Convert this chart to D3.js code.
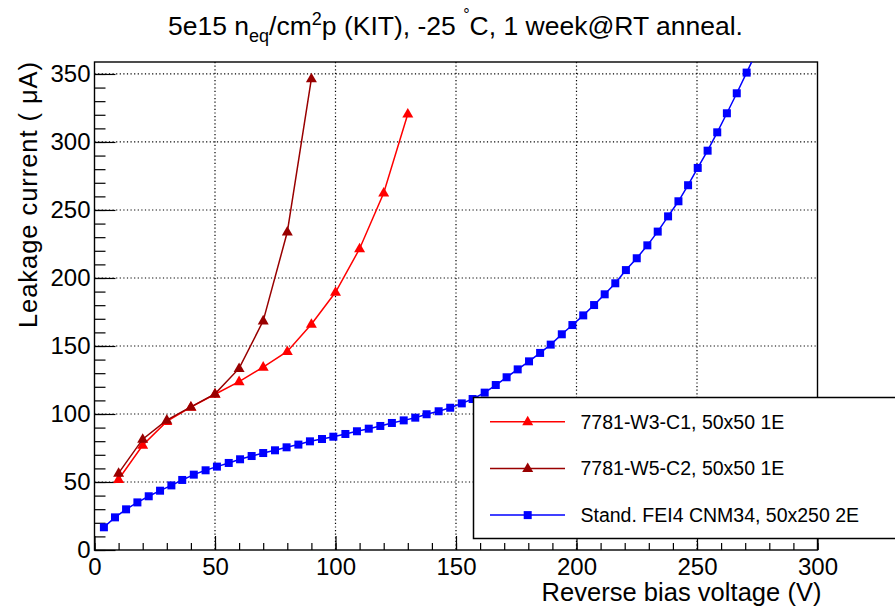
<!DOCTYPE html>
<html>
<head>
<meta charset="utf-8">
<script src="https://cdn.jsdelivr.net/npm/d3@7"></script>
<style>
  body { margin: 0; background: #fff; }
  svg { font-family: 'Liberation Sans', Arial, sans-serif; }
  .grid line { stroke: #000; stroke-width: 1.2; stroke-dasharray: 1.2 2.4; }
  .axis path { display: none; }
  .axis line { stroke: #000; stroke-width: 1.2; }
  .axis text { font-size: 24px; fill: #000; }
</style>
</head>
<body>
<svg id="chart" width="895" height="606"></svg>
<script>
// measured points (V, uA)
const voltW3 = [10, 20, 30, 40, 50, 60, 70, 80, 90, 100, 110, 120, 130];
const currW3 = [52, 77, 94.5, 105, 114.5, 123.8, 134.5, 146, 166, 189.5, 221.5, 262.5, 320.6];

const voltW5 = [10, 20, 30, 40, 50, 60, 70, 80, 90];
const currW5 = [56.5, 81.5, 95.5, 105.2, 114.8, 133.5, 168.5, 233.8, 346.5];

const voltCNM = [3.9, 8.5, 13.1, 17.8, 22.5, 27.2, 31.9, 36.4, 41.2, 46.1, 50.8, 55.7, 60.4, 65.2, 70,
  74.9, 79.7, 84.6, 89.4, 94.4, 99.1, 104.1, 108.9, 113.8, 118.6, 123.4, 128.3, 133.1, 137.8, 142.8,
  147.6, 152.4, 156.9, 161.9, 166.5, 171, 175.6, 180.3, 184.9, 189.3, 193.9, 198.3, 202.8, 207.3, 211.7,
  216.1, 220.5, 225, 229.4, 233.7, 238, 242.3, 246.3, 250.3, 254.4, 258.4, 262.4, 266.5, 270.6, 274.6];
const currCNM = [16.7, 24, 29.9, 35, 39.5, 43.6, 47.5, 51.5, 55.4, 58.6, 61.3, 64, 66.7, 69.1, 71.3,
  73.3, 75.5, 77.5, 79.9, 81.6, 83.3, 85.3, 87.3, 89.2, 91.2, 93.4, 95.3, 97.3, 99.8, 102,
  104.6, 107.8, 111, 115.7, 121.3, 127, 132.8, 138.7, 144.9, 151, 158.6, 165.4, 172.5, 180.1, 188,
  196.1, 205.8, 214.5, 224, 234.1, 245.3, 256.4, 268.2, 280.9, 293.6, 307.1, 321.1, 335.8, 351, 366];

const legendLabels = ['7781-W3-C1, 50x50 1E', '7781-W5-C2, 50x50 1E', 'Stand. FEI4 CNM34, 50x250 2E'];

const xMajor = [0, 50, 100, 150, 200, 250, 300];
const yMajor = [0, 50, 100, 150, 200, 250, 300, 350];

const frameL = 94.5, frameR = 817.5, frameT = 62, frameB = 550;

const svg = d3.select('#chart');
svg.append('rect').attr('width', 895).attr('height', 606).attr('fill', '#fff');

const x = d3.scaleLinear().domain([0, 300]).range([frameL, frameR]);
const y = d3.scaleLinear().domain([0, 358.8]).range([frameB, frameT]);

// grid
const grid = svg.append('g').attr('class', 'grid');
grid.selectAll('.gx').data(xMajor.slice(1, -1)).enter().append('line')
  .attr('x1', d => x(d)).attr('x2', d => x(d)).attr('y1', frameT).attr('y2', frameB);
grid.selectAll('.gy').data(yMajor.slice(1)).enter().append('line')
  .attr('x1', frameL).attr('x2', frameR).attr('y1', d => y(d)).attr('y2', d => y(d));

// axes, ticks inside the frame
svg.append('g').attr('class', 'axis').attr('transform', `translate(0,${frameB})`)
  .call(d3.axisBottom(x).tickValues(d3.range(0, 301, 10)).tickSize(-7).tickFormat(''));
svg.append('g').attr('class', 'axis').attr('transform', `translate(0,${frameB})`)
  .call(d3.axisBottom(x).tickValues(xMajor).tickSize(-14).tickPadding(8).tickFormat(d3.format('d')));
svg.append('g').attr('class', 'axis').attr('transform', `translate(${frameL},0)`)
  .call(d3.axisLeft(y).tickValues(d3.range(0, 351, 10)).tickSize(-11).tickFormat(''));
svg.append('g').attr('class', 'axis').attr('transform', `translate(${frameL},0)`)
  .call(d3.axisLeft(y).tickValues(yMajor).tickSize(-21).tickPadding(4).tickFormat(d3.format('d')));

// frame
svg.append('rect').attr('x', frameL).attr('y', frameT).attr('width', frameR - frameL).attr('height', frameB - frameT)
  .attr('fill', 'none').attr('stroke', '#000').attr('stroke-width', 1.4);

svg.append('clipPath').attr('id', 'frameClip').append('rect')
  .attr('x', frameL).attr('y', frameT).attr('width', frameR - frameL).attr('height', frameB - frameT);

const series = [
  { xs: voltW3, ys: currW3, color: '#ff0000', marker: 'tri' },
  { xs: voltW5, ys: currW5, color: '#990000', marker: 'tri' },
  { xs: voltCNM, ys: currCNM, color: '#0000ff', marker: 'sq' }
];

const line = d3.line().x(d => x(d[0])).y(d => y(d[1]));
const triPath = 'M0,-6L5.5,3.6L-5.5,3.6Z';

function drawMarker(g, cx, cy, s) {
  if (s.marker === 'tri') {
    g.append('path').attr('d', triPath).attr('transform', `translate(${cx},${cy})`).attr('fill', s.color);
  } else {
    g.append('rect').attr('x', cx - 4).attr('y', cy - 4).attr('width', 8).attr('height', 8).attr('fill', s.color);
  }
}

const plot = svg.append('g').attr('clip-path', 'url(#frameClip)');
series.forEach(s => {
  const pts = s.xs.map((v, i) => [v, s.ys[i]]);
  plot.append('path').datum(pts).attr('d', line).attr('fill', 'none')
    .attr('stroke', s.color).attr('stroke-width', 1.5);
  const mg = plot.append('g');
  pts.forEach(p => drawMarker(mg, x(p[0]), y(p[1]), s));
});

// legend
const lg = svg.append('g');
lg.append('rect').attr('x', 473.5).attr('y', 397.5).attr('width', 440).attr('height', 141)
  .attr('fill', '#fff').attr('stroke', '#000').attr('stroke-width', 1.5);
legendLabels.forEach((lab, i) => {
  const ry = 421.7 + i * 46.7;
  const s = series[i];
  lg.append('line').attr('x1', 490).attr('x2', 565).attr('y1', ry).attr('y2', ry)
    .attr('stroke', s.color).attr('stroke-width', 1.5);
  drawMarker(lg, 527.7, ry, s);
  lg.append('text').attr('x', 580.5).attr('y', ry).attr('dy', '0.36em')
    .attr('font-size', 19.5).text(lab);
});

// axis titles
svg.append('text').attr('x', frameR + 4).attr('y', 601).attr('text-anchor', 'end')
  .attr('font-size', 25.5).attr('textLength', 280).text('Reverse bias voltage (V)');
svg.append('text').attr('transform', `translate(37,${frameT}) rotate(-90)`).attr('text-anchor', 'end')
  .attr('font-size', 25.5).attr('textLength', 266).text('Leakage current ( μA)');

// title
const title = svg.append('text').attr('x', 455.5).attr('y', 35).attr('text-anchor', 'middle').attr('font-size', 26.5);
title.append('tspan').text('5e15 n');
title.append('tspan').attr('font-size', 18).attr('dy', 7).text('eq');
title.append('tspan').attr('dy', -7).text('/cm');
title.append('tspan').attr('font-size', 18).attr('dy', -10).text('2');
title.append('tspan').attr('dy', 10).text('p (KIT), -25 ');
title.append('tspan').attr('font-size', 16).attr('dy', -15).text('°');
title.append('tspan').attr('dy', 15).text('C, 1 week@RT anneal.');
</script>
</body>
</html>
